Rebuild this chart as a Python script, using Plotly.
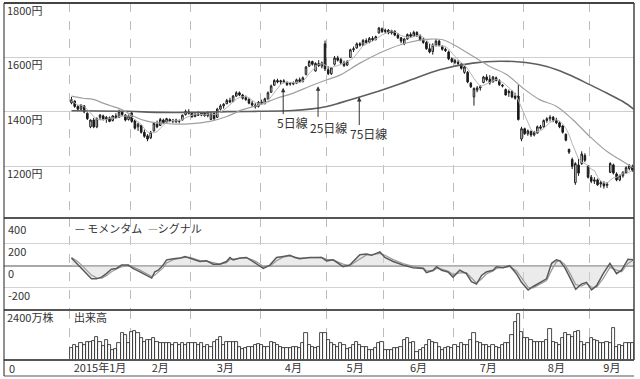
import numpy as np
import pandas as pd
import plotly.graph_objects as go

# ---------------- data ----------------
month_labels = ["2015年1月", "2月", "3月", "4月", "5月", "6月", "7月", "8月", "9月"]
month_days = [19, 19, 22, 21, 18, 22, 22, 21, 14]

opens = [1433,1440,1420,1410,1422,1395,1345,1370,1345,1380,1385,1372,1378,1368,1385,1380,1400,1388,1372,
         1395,1368,1345,1350,1325,1312,1305,1330,1355,1350,1370,1362,1372,1366,1370,1365,1370,1390,1400,
         1395,1383,1392,1388,1395,1386,1372,1395,1380,1410,1422,1430,1442,1438,1458,1470,1462,1452,1446,1432,1425,1420,
         1435,1430,1448,1472,1498,1515,1510,1514,1508,1502,1505,1505,1518,1512,1538,1568,1585,1550,1578,1568,1650,
         1555,1540,1575,1598,1592,1580,1572,1600,1628,1635,1650,1645,1662,1656,1670,1666,1690,1705,
         1695,1700,1690,1696,1682,1672,1650,1668,1684,1678,1692,1680,1665,1655,1632,1622,1645,1660,1640,1630,1620,1595,
         1588,1582,1575,1545,1545,1505,1455,1480,1488,1508,1528,1520,1510,1525,1515,1498,1482,1470,1475,1458,1458,1300,
         1338,1320,1328,1315,1322,1345,1345,1368,1375,1380,1370,1360,1348,1318,1262,1225,1140,1205,1210,1240,1200,
         1160,1145,1150,1135,1138,1130,1178,1205,1172,1150,1165,1175,1192,1200]
highs = [1455,1442,1425,1428,1425,1398,1372,1378,1380,1392,1390,1385,1383,1388,1395,1408,1405,1392,1390,
         1402,1372,1360,1352,1335,1318,1330,1362,1368,1378,1375,1378,1376,1372,1375,1372,1390,1408,1410,
         1400,1395,1402,1400,1398,1402,1400,1398,1415,1428,1432,1448,1452,1462,1476,1475,1466,1460,1450,1440,1432,1440,
         1445,1452,1475,1500,1520,1522,1518,1520,1512,1510,1512,1522,1526,1530,1568,1590,1588,1582,1590,1585,1662,
         1568,1565,1605,1606,1598,1588,1590,1632,1640,1655,1656,1668,1670,1675,1678,1680,1712,1710,
         1706,1704,1702,1700,1690,1675,1670,1688,1692,1698,1696,1685,1672,1660,1650,1652,1668,1665,1645,1636,1625,1600,
         1595,1590,1580,1568,1550,1510,1490,1495,1498,1532,1538,1535,1532,1530,1520,1502,1486,1482,1480,1470,1500,1345,
         1342,1335,1332,1330,1350,1352,1372,1380,1388,1385,1378,1365,1352,1320,1265,1232,1215,1228,1255,1248,1205,
         1168,1160,1155,1148,1145,1142,1215,1210,1178,1170,1182,1200,1208,1206]
lows = [1428,1415,1405,1405,1395,1370,1340,1340,1340,1370,1368,1360,1362,1365,1375,1378,1385,1365,1368,
        1360,1335,1330,1320,1305,1292,1300,1328,1340,1348,1355,1360,1362,1358,1360,1358,1368,1386,1390,
        1378,1380,1385,1384,1382,1380,1370,1368,1378,1405,1412,1428,1432,1435,1455,1458,1445,1440,1428,1418,1412,1416,
        1425,1428,1445,1470,1495,1505,1500,1505,1495,1496,1498,1502,1508,1508,1534,1565,1570,1548,1565,1560,1550,
        1535,1536,1570,1585,1576,1565,1568,1598,1620,1632,1640,1642,1650,1652,1660,1662,1688,1690,
        1688,1685,1684,1678,1668,1652,1645,1665,1672,1676,1675,1660,1650,1628,1615,1610,1640,1640,1625,1620,1590,1580,
        1575,1572,1555,1540,1505,1488,1423,1472,1478,1505,1512,1500,1508,1512,1495,1490,1460,1455,1450,1445,1368,1292,
        1315,1312,1308,1310,1320,1335,1342,1360,1365,1362,1355,1340,1320,1292,1245,1190,1132,1165,1205,1215,1155,
        1138,1135,1128,1122,1118,1120,1175,1170,1145,1145,1158,1172,1185,1180]
closes = [1445,1420,1410,1425,1400,1375,1370,1345,1375,1388,1372,1380,1365,1385,1378,1402,1390,1370,1385,
          1365,1340,1355,1325,1310,1300,1325,1358,1345,1372,1360,1375,1366,1370,1363,1368,1388,1402,1395,
          1382,1392,1388,1396,1386,1398,1395,1375,1410,1422,1428,1442,1436,1458,1470,1462,1450,1445,1432,1425,1418,1435,
          1430,1448,1470,1495,1515,1510,1514,1508,1500,1505,1503,1518,1512,1525,1565,1585,1575,1578,1570,1580,1558,
          1540,1562,1598,1590,1580,1570,1585,1628,1632,1650,1645,1662,1655,1670,1665,1676,1708,1695,
          1700,1690,1698,1682,1672,1660,1668,1684,1678,1692,1680,1665,1655,1632,1620,1645,1660,1645,1630,1625,1595,1585,
          1582,1578,1560,1565,1510,1492,1486,1488,1492,1528,1518,1506,1528,1515,1500,1495,1462,1475,1455,1450,1372,1338,
          1320,1330,1315,1325,1345,1340,1368,1375,1380,1370,1360,1345,1325,1296,1252,1200,1210,1175,1245,1222,1160,
          1145,1150,1132,1140,1128,1135,1210,1175,1150,1165,1178,1195,1202,1185]

volume = [560,720,640,800,720,880,880,930,1120,880,
          670,960,720,480,510,800,1280,1200,800,1360,
          1390,1280,1040,880,960,960,1040,880,800,800,
          830,800,720,800,720,830,720,800,830,800,
          720,800,640,720,640,880,960,1120,720,880,
          880,880,880,640,510,560,640,640,720,770,
          720,640,640,880,830,720,640,560,560,560,
          640,640,560,800,1280,720,640,560,640,1280,
          1280,960,800,720,640,800,720,510,560,720,
          880,720,640,640,480,480,560,800,880,480,
          480,480,560,560,640,960,1040,800,880,400,
          480,560,720,960,880,800,640,480,560,640,
          560,720,640,800,720,720,960,1280,880,800,
          720,720,640,720,640,560,720,800,830,1200,
          1840,2210,1360,1040,1040,960,880,880,880,880,
          960,1470,880,800,720,1040,1280,1200,1120,1360,
          1410,880,720,800,1040,960,930,830,830,880,
          800,1520,640,720,670,800,830,830]

ma25_idx = [0, 3.6, 6.8, 10, 13, 16, 19.4, 23.8, 27.9, 33, 38, 43.7, 49, 54, 59.4, 64.8, 70, 75.2, 80.6,
            84.7, 91, 98.3, 105.7, 113, 117.2, 121.6, 126.7, 132, 137.3, 142.4, 147.7, 153.1, 158.2,
            163.5, 168.9, 174, 177.4]
ma25_val = [1458, 1450, 1446, 1432, 1420, 1408, 1385, 1366, 1359, 1355, 1357, 1365, 1383, 1408, 1426,
            1450, 1469, 1494, 1518, 1535, 1579, 1622, 1653, 1667, 1665, 1640, 1604, 1567, 1537, 1488,
            1445, 1420, 1371, 1310, 1255, 1218, 1194]

ma75_idx = [0, 17.5, 27.9, 38.3, 49, 59.4, 69.8, 75.2, 80.6, 84.7, 95, 105.8, 116.2, 126.6, 135.2,
            141.5, 147.7, 153.1, 158.2, 163.5, 168.9, 174, 177.4]
ma75_val = [1404, 1402, 1398, 1398, 1401, 1402, 1405, 1410, 1420, 1433, 1469, 1512, 1555, 1579, 1586,
            1583, 1573, 1555, 1530, 1500, 1469, 1438, 1410]

mom_idx = [0, 1.6, 3.2, 4.8, 6.3, 7.9, 9.5, 11, 12.6, 14.2, 15.8, 17.9, 19.4, 21.6, 23.7, 25.3, 26.3,
           27.4, 28.9, 30, 32.1, 34.2, 35.8, 37.4, 38.9, 40.5, 42.6, 44.7, 46.8, 48.9, 50, 51, 53.1,
           55.2, 57.3, 59.4, 60.5, 62.6, 64.7, 66.8, 68.9, 70.5, 72, 75.2, 78.9, 80.5, 82.6, 85.7,
           87.8, 91, 93.1, 94.7, 97.3, 98.9, 101.5, 104.6, 107.8, 111, 112, 114.1, 115.2, 116.8,
           118.8, 120.4, 122.5, 124.6, 126.2, 127.8, 129.4, 130.9, 133, 134.1, 136.2, 138.3, 140.4,
           142, 144.1, 145.7, 147.8, 149.9, 151.5, 153, 154.1, 155.7, 157.2, 159.1, 160.9, 162.5,
           164.1, 165.7, 167.8, 169.9, 172, 173.6, 175.6, 177.2]
mom_val = [69, 22, -25, -72, -119, -119, -103, -72, -31, -25, 6, 6, -25, -56, -88, -112, -56,
           -41, 6, 53, 63, 69, 84, 69, 53, 38, 44, 13, 13, 38, 75, 53, 69,
           75, 38, 0, -25, 6, 75, 84, 94, 75, 63, 75, 75, 44, 53, -9,
           6, 100, 106, 94, 125, 75, 38, 6, -19, -25, -63, -41, -9, -41,
           -56, -103, -41, -72, -144, -166, -88, -56, -41, -9, -19, 0, -72,
           -150, -219, -188, -150, -119, 22, 53, 44, -19, -103, -213, -166, -150,
           -219, -181, -72, 22, -72, -41, 59, 53]
sig_val = [75, 45, 5, -40, -85, -110, -112, -90, -55, -30, -10, 5, -10, -40, -72, -98, -85,
           -60, -20, 25, 55, 65, 76, 75, 62, 46, 42, 25, 14, 28, 55, 60, 64,
           72, 52, 18, -10, -5, 45, 78, 88, 82, 70, 72, 75, 58, 50, 15,
           0, 60, 98, 100, 112, 95, 55, 20, -5, -22, -45, -48, -25, -30,
           -48, -80, -65, -62, -110, -155, -120, -75, -48, -25, -15, -8, -45,
           -115, -195, -200, -168, -135, -40, 35, 48, 10, -65, -170, -185, -160,
           -195, -195, -115, -15, -40, -55, 20, 50]

# ---------------- derived ----------------
idx = list(range(len(closes)))
ma5 = pd.Series(closes).rolling(5, min_periods=1).mean()
starts = np.concatenate([[0], np.cumsum(month_days)[:-1]])
bounds = [float(s) - 0.5 for s in starts]
mids = [float(s) + d / 2 - 0.5 for s, d in zip(starts, month_days)]

FONT = "Noto Sans CJK JP"
TXT = "#333333"
DARK = "#1a1a1a"

fig = go.Figure()
fig.add_trace(go.Scatter(x=ma75_idx, y=ma75_val, mode="lines",
                         line=dict(color="#5e5e5e", width=1.6, shape="spline"), xaxis="x", yaxis="y"))
fig.add_trace(go.Scatter(x=ma25_idx, y=ma25_val, mode="lines",
                         line=dict(color="#a0a0a0", width=1.2, shape="spline"), xaxis="x", yaxis="y"))
fig.add_trace(go.Scatter(x=idx, y=ma5, mode="lines",
                         line=dict(color="#b4b4b4", width=1), xaxis="x", yaxis="y"))
fig.add_trace(go.Candlestick(x=idx, open=opens, high=highs, low=lows, close=closes,
                             increasing=dict(line=dict(color=DARK, width=1), fillcolor="white"),
                             decreasing=dict(line=dict(color=DARK, width=1), fillcolor=DARK),
                             whiskerwidth=0, xaxis="x", yaxis="y"))

fig.add_trace(go.Scatter(x=mom_idx, y=mom_val, mode="lines", fill="tozeroy",
                         fillcolor="rgba(215,215,215,0.5)", line=dict(width=0),
                         xaxis="x2", yaxis="y2"))
fig.add_trace(go.Scatter(x=mom_idx, y=sig_val, mode="lines",
                         line=dict(color="#9a9a9a", width=1.2), xaxis="x2", yaxis="y2"))
fig.add_trace(go.Scatter(x=mom_idx, y=mom_val, mode="lines",
                         line=dict(color="#5a5a5a", width=1.5), xaxis="x2", yaxis="y2"))

fig.add_trace(go.Bar(x=idx, y=volume, marker=dict(color="white", line=dict(color=DARK, width=0.8)),
                     xaxis="x3", yaxis="y3"))

PLOT_TOP, PLOT_BOT = 3, 360
H = PLOT_BOT - PLOT_TOP
def py(pix):
    return (PLOT_BOT - pix) / H
def px(pix):
    return (pix - 4) / 630

d_price = [py(218), 1]
d_mom = [py(310), py(218)]
d_vol = [0, py(310)]

xcommon = dict(range=[-21.3, 177.5], showgrid=False, zeroline=False, showline=False, ticks="",
               minor=dict(tickmode="array", tickvals=bounds, showgrid=True, gridcolor="#bdbdbd",
                          griddash="dash", gridwidth=1, ticks=""))

fig.update_layout(
    width=640, height=379, margin=dict(l=4, r=6, t=PLOT_TOP, b=379 - PLOT_BOT),
    paper_bgcolor="white", plot_bgcolor="white", showlegend=False, bargap=0,
    font=dict(family=FONT, size=11, color=TXT),
    xaxis=dict(**xcommon, anchor="y", showticklabels=False, tickvals=[], rangeslider=dict(visible=False)),
    xaxis2=dict(**xcommon, anchor="y2", showticklabels=False, tickvals=[]),
    xaxis3=dict(**xcommon, anchor="y3", tickmode="array", tickvals=mids, ticktext=month_labels,
                tickfont=dict(family=FONT, size=11, color=TXT)),
    yaxis=dict(domain=d_price, range=[1010, 1800], tickvals=[1200, 1400, 1600], showgrid=True,
               gridcolor="#cfcfcf", gridwidth=1, showticklabels=False, zeroline=False, ticks=""),
    yaxis2=dict(domain=d_mom, range=[-401, 432], tickvals=[-200, 200], showgrid=True,
                gridcolor="#d2d2d2", showticklabels=False, zeroline=True, zerolinecolor="#a8a8a8",
                zerolinewidth=2, ticks=""),
    yaxis3=dict(domain=d_vol, range=[0, 2400], showgrid=False, showticklabels=False,
                zeroline=False, ticks=""),
)

ann = []
for v in [1800, 1600, 1400, 1200]:
    ann.append(dict(text=f"{v}円", xref="paper", x=0.002, yref="y", y=v, xanchor="left",
                    yanchor="top", showarrow=False, yshift=3))
for v in [400, 200, 0, -200]:
    ann.append(dict(text=str(v), xref="paper", x=0.003, yref="y2", y=v, xanchor="left",
                    yanchor="top", showarrow=False, yshift=3))
ann.append(dict(text="2400万株", xref="paper", x=0.002, yref="y3", y=2400, xanchor="left",
                yanchor="top", showarrow=False, yshift=3))
ann.append(dict(text="0", xref="paper", x=0.004, yref="y3", y=0, xanchor="left",
                yanchor="top", showarrow=False, yshift=2))
ann.append(dict(text="出来高", xref="paper", x=px(72), yref="y3", y=2400, xanchor="left",
                yanchor="top", showarrow=False, yshift=3))
ann.append(dict(text="<span style='color:#444'>—</span> モメンタム", xref="paper", x=px(73),
                yref="paper", y=py(228), xanchor="left", yanchor="middle", showarrow=False))
ann.append(dict(text="<span style='color:#999'>—</span>シグナル", xref="paper", x=px(146),
                yref="paper", y=py(228), xanchor="left", yanchor="middle", showarrow=False))

# moving-average callouts
callouts = [("5日線", 66.8, 1489, 1386, 69.8, 1362),
            ("25日線", 77.8, 1494, 1376, 81.0, 1344),
            ("75日線", 90.8, 1455, 1346, 93.8, 1320)]
for label, ax_i, tip, tail, tx, ty in callouts:
    ann.append(dict(text="", x=ax_i, y=tip, xref="x", yref="y", ax=ax_i, ay=tail, axref="x",
                    ayref="y", showarrow=True, arrowhead=2, arrowsize=0.9, arrowwidth=1,
                    arrowcolor="#333"))
    ann.append(dict(text=label, x=tx, y=ty, xref="x", yref="y", showarrow=False,
                    font=dict(size=12, color=TXT)))
fig.update_layout(annotations=ann)

shapes = []
def hline(yp, w, c, x0=0, x1=1):
    shapes.append(dict(type="line", xref="paper", yref="paper", x0=x0, x1=x1, y0=yp, y1=yp,
                       line=dict(color=c, width=w)))
hline(1, 2, "#444")
hline(py(218), 2, "#555")
hline(py(310), 2, "#555")
hline(0, 2, "#555")
hline(py(376), 1, "#555")
shapes.append(dict(type="line", xref="paper", yref="paper", x0=0, x1=0, y0=py(376), y1=1,
                   line=dict(color="#222", width=1)))
shapes.append(dict(type="line", xref="paper", yref="paper", x0=1, x1=1, y0=0, y1=1,
                   line=dict(color="#444", width=1.5)))
fig.update_layout(shapes=shapes)

fig.write_html("out.html")
